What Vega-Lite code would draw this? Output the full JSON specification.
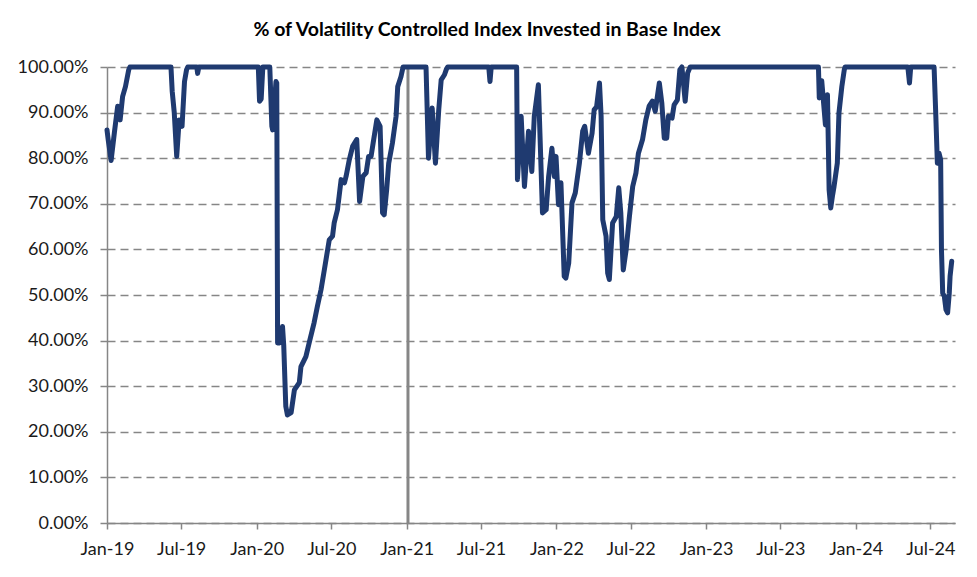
{
  "$schema": "https://vega.github.io/schema/vega-lite/v6.json",
  "autosize": {"type": "none"},
  "width": 848,
  "height": 456,
  "padding": {"left": 107, "top": 67, "right": 22, "bottom": 54},
  "background": "white",
  "title": {
    "text": "% of Volatility Controlled Index Invested in Base Index",
    "font": "Lato",
    "fontSize": 19.5,
    "fontWeight": "bold",
    "color": "#000000",
    "anchor": "middle",
    "frame": "group",
    "dx": -44,
    "offset": 18
  },
  "config": {
    "view": {"stroke": null},
    "axis": {
      "labelFont": "Lato",
      "labelFontSize": 18,
      "labelColor": "#1a1a1a",
      "domainColor": "#868686",
      "domainWidth": 1.5,
      "tickColor": "#868686",
      "tickWidth": 1.5,
      "title": null
    }
  },
  "datasets": {
    "series": [
      {"date": "2019-01-01", "pct": 0.862},
      {"date": "2019-01-04", "pct": 0.84},
      {"date": "2019-01-11", "pct": 0.795},
      {"date": "2019-01-19", "pct": 0.856},
      {"date": "2019-01-27", "pct": 0.914},
      {"date": "2019-02-02", "pct": 0.884},
      {"date": "2019-02-08", "pct": 0.935},
      {"date": "2019-02-15", "pct": 0.957},
      {"date": "2019-02-23", "pct": 0.994},
      {"date": "2019-02-26", "pct": 1.0},
      {"date": "2019-06-06", "pct": 1.0},
      {"date": "2019-06-09", "pct": 0.947},
      {"date": "2019-06-14", "pct": 0.9},
      {"date": "2019-06-20", "pct": 0.804},
      {"date": "2019-06-26", "pct": 0.884},
      {"date": "2019-07-03", "pct": 0.87},
      {"date": "2019-07-09", "pct": 0.968},
      {"date": "2019-07-14", "pct": 0.994},
      {"date": "2019-07-17", "pct": 1.0},
      {"date": "2019-08-08", "pct": 1.0},
      {"date": "2019-08-10", "pct": 0.986},
      {"date": "2019-08-13", "pct": 1.0},
      {"date": "2020-01-05", "pct": 1.0},
      {"date": "2020-01-08", "pct": 0.925},
      {"date": "2020-01-12", "pct": 0.93},
      {"date": "2020-01-16", "pct": 1.0},
      {"date": "2020-02-02", "pct": 1.0},
      {"date": "2020-02-07", "pct": 0.87},
      {"date": "2020-02-09", "pct": 0.862},
      {"date": "2020-02-17", "pct": 0.968},
      {"date": "2020-02-19", "pct": 0.965},
      {"date": "2020-02-21", "pct": 0.395},
      {"date": "2020-02-26", "pct": 0.395},
      {"date": "2020-03-04", "pct": 0.431},
      {"date": "2020-03-07", "pct": 0.39},
      {"date": "2020-03-12", "pct": 0.256},
      {"date": "2020-03-16", "pct": 0.237},
      {"date": "2020-03-25", "pct": 0.242},
      {"date": "2020-04-02", "pct": 0.292},
      {"date": "2020-04-14", "pct": 0.308},
      {"date": "2020-04-18", "pct": 0.343},
      {"date": "2020-04-30", "pct": 0.365},
      {"date": "2020-05-08", "pct": 0.395},
      {"date": "2020-05-20", "pct": 0.439},
      {"date": "2020-05-28", "pct": 0.475},
      {"date": "2020-06-06", "pct": 0.512},
      {"date": "2020-06-14", "pct": 0.555},
      {"date": "2020-06-22", "pct": 0.599},
      {"date": "2020-06-26", "pct": 0.621},
      {"date": "2020-07-04", "pct": 0.629},
      {"date": "2020-07-08", "pct": 0.658},
      {"date": "2020-07-16", "pct": 0.687},
      {"date": "2020-07-20", "pct": 0.716},
      {"date": "2020-07-25", "pct": 0.753},
      {"date": "2020-08-02", "pct": 0.746},
      {"date": "2020-08-06", "pct": 0.76},
      {"date": "2020-08-14", "pct": 0.797},
      {"date": "2020-08-22", "pct": 0.826},
      {"date": "2020-09-01", "pct": 0.841},
      {"date": "2020-09-08", "pct": 0.705},
      {"date": "2020-09-16", "pct": 0.76},
      {"date": "2020-09-24", "pct": 0.768},
      {"date": "2020-09-30", "pct": 0.804},
      {"date": "2020-10-06", "pct": 0.804},
      {"date": "2020-10-11", "pct": 0.833},
      {"date": "2020-10-20", "pct": 0.884},
      {"date": "2020-10-28", "pct": 0.87},
      {"date": "2020-11-03", "pct": 0.68},
      {"date": "2020-11-07", "pct": 0.676},
      {"date": "2020-11-13", "pct": 0.731},
      {"date": "2020-11-18", "pct": 0.789},
      {"date": "2020-11-27", "pct": 0.833},
      {"date": "2020-12-06", "pct": 0.892},
      {"date": "2020-12-10", "pct": 0.957},
      {"date": "2020-12-18", "pct": 0.979},
      {"date": "2020-12-23", "pct": 1.0},
      {"date": "2021-02-17", "pct": 1.0},
      {"date": "2021-02-23", "pct": 0.8},
      {"date": "2021-03-04", "pct": 0.91},
      {"date": "2021-03-12", "pct": 0.789},
      {"date": "2021-03-20", "pct": 0.906},
      {"date": "2021-03-26", "pct": 0.972},
      {"date": "2021-04-03", "pct": 0.983},
      {"date": "2021-04-08", "pct": 0.996},
      {"date": "2021-04-11", "pct": 1.0},
      {"date": "2021-07-20", "pct": 1.0},
      {"date": "2021-07-23", "pct": 0.968},
      {"date": "2021-07-26", "pct": 1.0},
      {"date": "2021-09-26", "pct": 1.0},
      {"date": "2021-09-28", "pct": 0.753},
      {"date": "2021-10-07", "pct": 0.892},
      {"date": "2021-10-15", "pct": 0.738},
      {"date": "2021-10-25", "pct": 0.859},
      {"date": "2021-11-02", "pct": 0.771},
      {"date": "2021-11-08", "pct": 0.892},
      {"date": "2021-11-18", "pct": 0.961},
      {"date": "2021-11-28", "pct": 0.68},
      {"date": "2021-12-07", "pct": 0.687},
      {"date": "2021-12-13", "pct": 0.76},
      {"date": "2021-12-21", "pct": 0.822},
      {"date": "2021-12-27", "pct": 0.76},
      {"date": "2021-12-31", "pct": 0.804},
      {"date": "2022-01-06", "pct": 0.698},
      {"date": "2022-01-12", "pct": 0.746},
      {"date": "2022-01-20", "pct": 0.541},
      {"date": "2022-01-24", "pct": 0.537},
      {"date": "2022-01-31", "pct": 0.57},
      {"date": "2022-02-08", "pct": 0.702},
      {"date": "2022-02-16", "pct": 0.724},
      {"date": "2022-02-26", "pct": 0.789},
      {"date": "2022-03-06", "pct": 0.859},
      {"date": "2022-03-11", "pct": 0.87},
      {"date": "2022-03-20", "pct": 0.811},
      {"date": "2022-03-29", "pct": 0.855},
      {"date": "2022-04-03", "pct": 0.906},
      {"date": "2022-04-09", "pct": 0.913},
      {"date": "2022-04-16", "pct": 0.965},
      {"date": "2022-04-20", "pct": 0.892},
      {"date": "2022-04-24", "pct": 0.665},
      {"date": "2022-05-02", "pct": 0.629},
      {"date": "2022-05-06", "pct": 0.548},
      {"date": "2022-05-10", "pct": 0.534},
      {"date": "2022-05-18", "pct": 0.658},
      {"date": "2022-05-27", "pct": 0.672},
      {"date": "2022-06-02", "pct": 0.735},
      {"date": "2022-06-07", "pct": 0.68},
      {"date": "2022-06-13", "pct": 0.555},
      {"date": "2022-06-20", "pct": 0.599},
      {"date": "2022-06-28", "pct": 0.672},
      {"date": "2022-07-06", "pct": 0.738},
      {"date": "2022-07-14", "pct": 0.768},
      {"date": "2022-07-20", "pct": 0.811},
      {"date": "2022-07-30", "pct": 0.841},
      {"date": "2022-08-07", "pct": 0.884},
      {"date": "2022-08-15", "pct": 0.914},
      {"date": "2022-08-23", "pct": 0.925},
      {"date": "2022-08-30", "pct": 0.903},
      {"date": "2022-09-09", "pct": 0.965},
      {"date": "2022-09-15", "pct": 0.921},
      {"date": "2022-09-21", "pct": 0.844},
      {"date": "2022-09-27", "pct": 0.844},
      {"date": "2022-10-01", "pct": 0.892},
      {"date": "2022-10-10", "pct": 0.888},
      {"date": "2022-10-15", "pct": 0.917},
      {"date": "2022-10-23", "pct": 0.928},
      {"date": "2022-10-29", "pct": 0.994},
      {"date": "2022-11-03", "pct": 1.0},
      {"date": "2022-11-11", "pct": 0.925},
      {"date": "2022-11-17", "pct": 0.987},
      {"date": "2022-11-23", "pct": 1.0},
      {"date": "2023-10-02", "pct": 1.0},
      {"date": "2023-10-04", "pct": 0.932},
      {"date": "2023-10-10", "pct": 0.97},
      {"date": "2023-10-19", "pct": 0.873},
      {"date": "2023-10-24", "pct": 0.939},
      {"date": "2023-10-28", "pct": 0.731},
      {"date": "2023-11-01", "pct": 0.691},
      {"date": "2023-11-05", "pct": 0.716},
      {"date": "2023-11-09", "pct": 0.738},
      {"date": "2023-11-17", "pct": 0.789},
      {"date": "2023-11-21", "pct": 0.899},
      {"date": "2023-11-28", "pct": 0.957},
      {"date": "2023-12-04", "pct": 0.994},
      {"date": "2023-12-06", "pct": 1.0},
      {"date": "2024-05-07", "pct": 1.0},
      {"date": "2024-05-11", "pct": 0.965},
      {"date": "2024-05-14", "pct": 1.0},
      {"date": "2024-07-10", "pct": 1.0},
      {"date": "2024-07-14", "pct": 0.899},
      {"date": "2024-07-18", "pct": 0.789},
      {"date": "2024-07-22", "pct": 0.811},
      {"date": "2024-07-26", "pct": 0.797},
      {"date": "2024-07-28", "pct": 0.599},
      {"date": "2024-07-31", "pct": 0.504},
      {"date": "2024-08-04", "pct": 0.497},
      {"date": "2024-08-08", "pct": 0.468},
      {"date": "2024-08-12", "pct": 0.461},
      {"date": "2024-08-16", "pct": 0.504},
      {"date": "2024-08-18", "pct": 0.541},
      {"date": "2024-08-22", "pct": 0.574}
    ],
    "marker": [
      {"date": "2021-01-04"}
    ]
  },
  "layer": [
    {
      "data": {"name": "marker"},
      "mark": {"type": "rule", "color": "#868686", "strokeWidth": 3},
      "encoding": {
        "x": {"field": "date", "type": "temporal", "scale": {"type": "utc"}}
      }
    },
    {
      "data": {"name": "series"},
      "mark": {"type": "line", "color": "#1f3a70", "strokeWidth": 5, "strokeJoin": "round", "strokeCap": "round"},
      "encoding": {
        "x": {
          "field": "date",
          "type": "temporal",
          "scale": {
            "type": "utc",
            "domain": [
              {"year": 2019, "month": 1, "date": 1, "utc": true},
              {"year": 2024, "month": 8, "date": 30, "utc": true}
            ],
            "nice": false
          },
          "axis": {
            "values": [
              {"year": 2019, "month": 1, "date": 1, "utc": true},
              {"year": 2019, "month": 7, "date": 1, "utc": true},
              {"year": 2020, "month": 1, "date": 1, "utc": true},
              {"year": 2020, "month": 7, "date": 1, "utc": true},
              {"year": 2021, "month": 1, "date": 1, "utc": true},
              {"year": 2021, "month": 7, "date": 1, "utc": true},
              {"year": 2022, "month": 1, "date": 1, "utc": true},
              {"year": 2022, "month": 7, "date": 1, "utc": true},
              {"year": 2023, "month": 1, "date": 1, "utc": true},
              {"year": 2023, "month": 7, "date": 1, "utc": true},
              {"year": 2024, "month": 1, "date": 1, "utc": true},
              {"year": 2024, "month": 7, "date": 1, "utc": true}
            ],
            "format": "%b-%y",
            "grid": false,
            "tickSize": 6,
            "labelPadding": 11,
            "labelFlush": false,
            "labelOverlap": false
          }
        },
        "y": {
          "field": "pct",
          "type": "quantitative",
          "scale": {"domain": [0, 1], "nice": false, "zero": true},
          "axis": {
            "values": [0, 0.1, 0.2, 0.3, 0.4, 0.5, 0.6, 0.7, 0.8, 0.9, 1.0],
            "format": ".2%",
            "grid": true,
            "gridColor": "#868686",
            "gridWidth": 1.5,
            "gridDash": [8, 5],
            "gridOpacity": 1,
            "tickSize": 7,
            "labelPadding": 12,
            "labelFlush": false,
            "labelOverlap": false
          }
        }
      }
    }
  ]
}
